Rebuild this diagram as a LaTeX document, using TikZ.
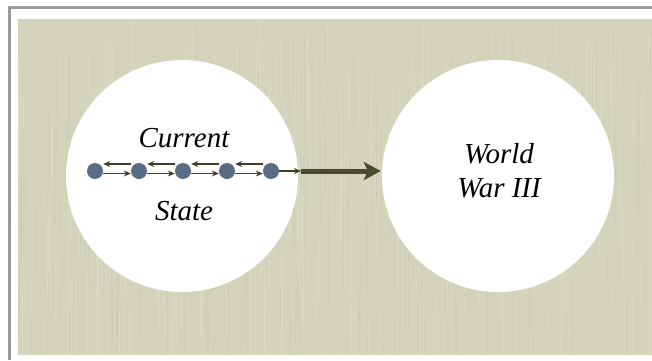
\documentclass[tikz,border=0pt]{standalone}
\usepackage{fontspec}
\setmainfont{Liberation Serif}
\usetikzlibrary{arrows.meta}
\definecolor{paper}{HTML}{D4D3BC}
\definecolor{paperlight}{HTML}{DEDDC8}
\definecolor{paperdark}{HTML}{C9C8B0}
\definecolor{framegray}{HTML}{9A9A9A}
\definecolor{dotblue}{HTML}{5B6B86}
\definecolor{olive}{HTML}{4B4A2E}
\tikzset{
  bigcircle/.style={circle, fill=white, draw=none, minimum size=232pt, inner sep=0pt},
  statedot/.style={circle, fill=dotblue, draw=none, minimum size=16pt, inner sep=0pt},
  thinarrow/.style={draw=olive!85!black, line width=1.3pt, -{Stealth[length=7pt,width=6pt]}},
  thickarrow/.style={draw=olive, line width=5pt, -{Stealth[length=17pt,width=18pt,inset=4pt]}},
  caption/.style={font=\fontsize{29}{32}\selectfont\itshape, text=black, anchor=base, inner sep=0pt}
}
\begin{document}
\begin{tikzpicture}[x=1pt,y=-1pt]
\useasboundingbox (0,0) rectangle (652,360);
\fill[white] (0,0) rectangle (652,360);
\fill[paper] (17.5,19) rectangle (652,355);
% paper texture
\pgfmathsetseed{7}
\foreach \i in {1,...,300}{
  \pgfmathsetmacro{\xx}{18+633*rnd}
  \pgfmathsetmacro{\ya}{19+300*rnd}
  \pgfmathsetmacro{\yb}{\ya+20+120*rnd}
  \pgfmathsetmacro{\yc}{min(\yb,355)}
  \draw[paperlight, line width=0.8pt, opacity=0.6] (\xx,\ya) -- (\xx,\yc);
}
\foreach \i in {1,...,240}{
  \pgfmathsetmacro{\xx}{18+633*rnd}
  \pgfmathsetmacro{\ya}{19+300*rnd}
  \pgfmathsetmacro{\yb}{\ya+20+120*rnd}
  \pgfmathsetmacro{\yc}{min(\yb,355)}
  \draw[paperdark, line width=0.7pt, opacity=0.5] (\xx,\ya) -- (\xx,\yc);
}
% frame
\draw[framegray, line width=3pt] (9.5,360) -- (9.5,7.5) -- (652,7.5);
% circles
\node[bigcircle] (L) at (182,176) {};
\node[bigcircle] (R) at (498,176) {};
% texts
\node[caption] (cur) at (184,147) {Current};
\node[caption] (sta) at (184,220) {State};
\node[caption] (w1) at (499,163) {World};
\node[caption] (w2) at (499,197) {War III};
% dots
\node[statedot] (d1) at (95,171) {};
\node[statedot] (d2) at (139,171) {};
\node[statedot] (d3) at (183,171) {};
\node[statedot] (d4) at (227,171) {};
\node[statedot] (d5) at (271,171) {};
% forward arrows
\foreach \a/\b in {d1/d2,d2/d3,d3/d4,d4/d5}{
  \draw[thinarrow] ([yshift=-2.5pt]\a.east) -- ([yshift=-2.5pt]\b.west);
}
% backward arrows
\foreach \a/\b in {d2/d1,d3/d2,d4/d3,d5/d4}{
  \draw[thinarrow] ([yshift=7pt]\a.west) -- ([yshift=7pt]\b.east);
}
% out arrow
\coordinate (m) at (301,171);
\draw[thinarrow] (d5.east) -- (m);
\draw[thickarrow] (m) -- ([xshift=-1pt]R.west |- m);
\end{tikzpicture}
\end{document}
